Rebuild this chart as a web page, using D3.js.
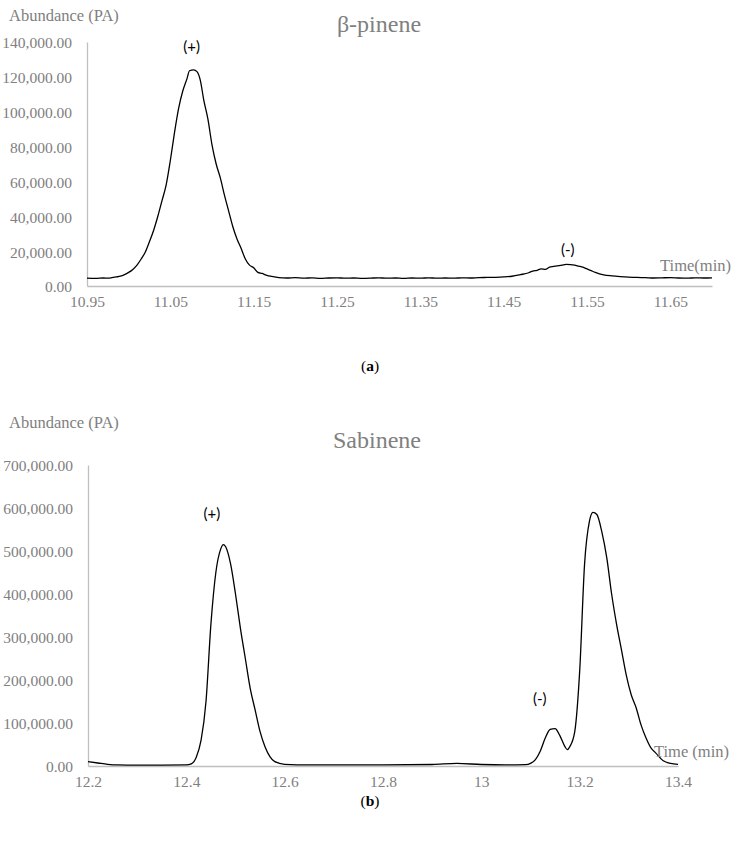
<!DOCTYPE html>
<html>
<head>
<meta charset="utf-8">
<script src="https://cdn.jsdelivr.net/npm/d3@7"></script>
<style>
  html, body { margin: 0; padding: 0; background: #fff; }
  svg { display: block; }
</style>
</head>
<body>
<svg id="chart" width="738" height="841"></svg>
<script>
// ---- Data: (a) β-pinene ----
const pineneTime = [10.950,10.960,10.970,10.975,10.980,10.985,10.990,10.995,11.000,11.005,11.010,11.015,11.020,11.025,11.030,11.035,11.040,11.045,11.050,11.055,11.060,11.065,11.070,11.073,11.078,11.082,11.086,11.090,11.095,11.100,11.105,11.110,11.115,11.120,11.125,11.130,11.135,11.140,11.145,11.150,11.155,11.160,11.165,11.170,11.175,11.180,11.190,11.200,11.210,11.220,11.230,11.240,11.250,11.260,11.270,11.280,11.290,11.300,11.310,11.320,11.330,11.340,11.350,11.360,11.370,11.380,11.390,11.400,11.410,11.420,11.430,11.440,11.450,11.460,11.470,11.480,11.485,11.490,11.495,11.500,11.505,11.510,11.520,11.525,11.530,11.535,11.540,11.545,11.550,11.555,11.560,11.565,11.570,11.580,11.590,11.600,11.610,11.620,11.630,11.640,11.650,11.660,11.670,11.680,11.690,11.700];
const pineneAbund = [4500,4400,4600,4500,4800,5200,5600,6500,7800,9500,12000,15500,19500,25500,32000,40000,49000,58000,72000,88000,102000,112000,119000,123500,124000,123000,118000,107000,96000,81000,70000,62000,52000,43000,34000,27000,21500,15500,12000,10500,7800,7200,6300,5600,5200,4800,4600,4800,4500,4700,4400,4600,4700,4500,4600,4400,4500,4700,4500,4600,4400,4600,4500,4700,4500,4600,4500,4700,4600,4800,4900,5000,5200,5600,6500,7600,8600,9000,9800,9500,10800,11200,12000,12400,12300,12000,11400,10800,9800,8800,7800,7000,6400,5800,5400,5100,4900,4800,4600,4700,4800,4600,4500,4700,4600,4700];
const pineneYTicks = [0,20000,40000,60000,80000,100000,120000,140000];
const pineneXTicks = [10.95,11.05,11.15,11.25,11.35,11.45,11.55,11.65];

// ---- Data: (b) Sabinene ----
const sabTime = [12.20,12.22,12.24,12.26,12.30,12.35,12.40,12.41,12.42,12.43,12.44,12.45,12.46,12.47,12.475,12.48,12.49,12.50,12.51,12.52,12.53,12.54,12.55,12.56,12.57,12.58,12.60,12.65,12.70,12.80,12.90,12.95,13.00,13.05,13.09,13.10,13.11,13.12,13.13,13.14,13.15,13.16,13.17,13.175,13.18,13.19,13.20,13.21,13.22,13.227,13.235,13.245,13.255,13.265,13.275,13.285,13.295,13.305,13.315,13.325,13.335,13.345,13.355,13.37,13.385,13.40];
const sabAbund = [10000,7000,4000,2500,2000,2000,2500,5000,20000,60000,150000,330000,450000,505000,515000,510000,470000,400000,320000,250000,180000,130000,80000,45000,22000,10000,4000,2500,2500,2500,3500,6000,3500,2500,3000,6000,15000,35000,65000,85000,87000,70000,45000,38000,45000,80000,220000,470000,570000,590000,585000,545000,485000,400000,330000,270000,210000,165000,135000,95000,65000,42000,30000,12000,6000,4000];
const sabYTicks = [0,100000,200000,300000,400000,500000,600000,700000];
const sabXTicks = [12.2,12.4,12.6,12.8,13,13.2,13.4];

const svg = d3.select("#chart");
const serif = '"Liberation Serif", "DejaVu Serif", serif';
const sans = 'Lato, "Open Sans", sans-serif';
const axisColor = "#bfbfbf";
const textColor = "#808080";
const yFmt = d3.format(",.2f");

function panel(cfg) {
  const x = d3.scaleLinear().domain(cfg.xDomain).range(cfg.xRange);
  const y = d3.scaleLinear().domain(cfg.yDomain).range(cfg.yRange);
  const g = svg.append("g");

  const yAxis = g.append("g")
    .attr("transform", `translate(${cfg.xRange[0]},0)`)
    .call(d3.axisLeft(y).tickValues(cfg.yTicks).tickFormat(yFmt).tickSize(0).tickPadding(15));
  yAxis.attr("font-family", serif).attr("font-size", 15.5);
  yAxis.select(".domain").attr("stroke", axisColor).attr("stroke-width", 1.3);
  yAxis.selectAll(".tick text").attr("font-family", serif).attr("font-size", 15.5).attr("fill", textColor).attr("dy", "0.38em");

  const xAxis = g.append("g")
    .attr("transform", `translate(0,${cfg.yRange[0]})`)
    .call(d3.axisBottom(x).tickValues(cfg.xTicks).tickFormat(cfg.xFmt).tickSize(0).tickPadding(12));
  xAxis.attr("font-family", serif).attr("font-size", 15.5);
  xAxis.select(".domain").attr("stroke", axisColor).attr("stroke-width", 1.3);
  xAxis.selectAll(".tick text").attr("font-family", serif).attr("font-size", 15.5).attr("fill", textColor).attr("dy", "0.6em");

  const line = d3.line()
    .x((d, i) => x(cfg.time[i]))
    .y(d => y(d))
    .curve(d3.curveMonotoneX);
  g.append("path")
    .datum(cfg.abund)
    .attr("d", line)
    .attr("fill", "none")
    .attr("stroke", "#000")
    .attr("stroke-width", 1.3);

  // y-axis title
  g.append("text").attr("x", 9).attr("y", cfg.yTitleY)
    .attr("font-family", serif).attr("font-size", 16.5).attr("fill", textColor)
    .text("Abundance (PA)");
  // chart title
  g.append("text").attr("x", cfg.titleX).attr("y", cfg.titleY)
    .attr("text-anchor", "middle")
    .attr("font-family", serif).attr("font-size", 24).attr("fill", textColor)
    .text(cfg.title);
  // x-axis title
  g.append("text").attr("x", cfg.xTitleX).attr("y", cfg.xTitleY)
    .attr("text-anchor", "end")
    .attr("font-family", serif).attr("font-size", 16.5).attr("fill", textColor)
    .text(cfg.xTitle);
  // peak annotations
  cfg.annots.forEach(a => {
    g.append("text").attr("x", x(a.t)).attr("y", y(a.v))
      .attr("text-anchor", "middle")
      .attr("font-family", sans).attr("font-size", 15).attr("fill", "#000")
      .text(a.label);
  });
  // panel letter
  const lt = g.append("text").attr("x", 370).attr("y", cfg.letterY)
    .attr("text-anchor", "middle")
    .attr("font-family", serif).attr("font-size", 15.5).attr("fill", "#000");
  lt.append("tspan").text("(");
  lt.append("tspan").attr("font-weight", "bold").text(cfg.letter);
  lt.append("tspan").text(")");
}

panel({
  time: pineneTime, abund: pineneAbund,
  xDomain: [10.95, 11.70], xRange: [87, 712],
  yDomain: [0, 140000], yRange: [286, 42],
  yTicks: pineneYTicks, xTicks: pineneXTicks,
  xFmt: d3.format(".2f"),
  title: "β-pinene", titleX: 379, titleY: 32,
  yTitleY: 21, xTitle: "Time(min)", xTitleX: 731, xTitleY: 271,
  annots: [{label: "(+)", t: 11.0755, v: 134000}, {label: "(-)", t: 11.527, v: 18000}],
  letter: "a", letterY: 371
});

panel({
  time: sabTime, abund: sabAbund,
  xDomain: [12.2, 13.4], xRange: [88, 678],
  yDomain: [0, 700000], yRange: [766, 465],
  yTicks: sabYTicks, xTicks: sabXTicks,
  xFmt: d => String(+d.toFixed(1)),
  title: "Sabinene", titleX: 377, titleY: 448,
  yTitleY: 428, xTitle: "Time (min)", xTitleX: 729, xTitleY: 757,
  annots: [{label: "(+)", t: 12.452, v: 575000}, {label: "(-)", t: 13.119, v: 145000}],
  letter: "b", letterY: 806
});
</script>
</body>
</html>
